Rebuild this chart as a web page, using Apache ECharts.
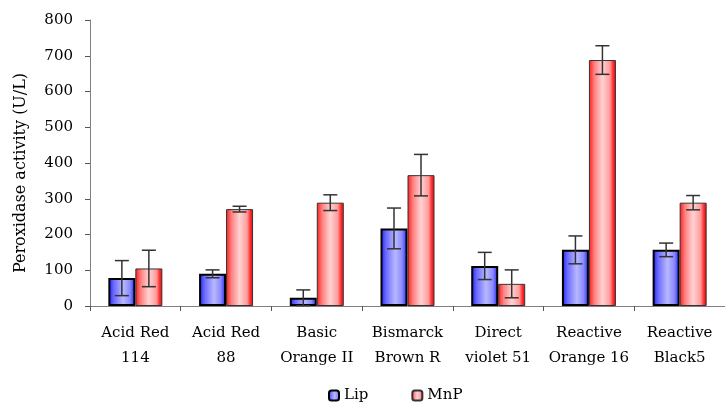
<!DOCTYPE html>
<html>
<head>
<meta charset="utf-8">
<script src="https://cdn.jsdelivr.net/npm/echarts@6/dist/echarts.min.js"></script>
<style>
html,body{margin:0;padding:0;background:#fff;}
#chart{width:725px;height:407px;}
</style>
</head>
<body>
<div id="chart"></div>
<script>
const categories = ['Acid Red\n114', 'Acid Red\n88', 'Basic\nOrange II', 'Bismarck\nBrown R', 'Direct\nviolet 51', 'Reactive\nOrange 16', 'Reactive\nBlack5'];
const lipValues = [78, 90, 23, 217, 112, 157, 157];
const lipErrors = [49, 11, 22, 57, 38, 39, 19];
const mnpValues = [105, 271, 289, 366, 62, 688, 289];
const mnpErrors = [51, 8, 22, 58, 39, 40, 20];
const seriesNames = ['Lip', 'MnP'];

const BAR_W = 27;
const serif = '"DejaVu Serif", "Liberation Serif", serif';

const lipGrad = new echarts.graphic.LinearGradient(0, 0, 1, 0, [
  {offset: 0, color: '#1a1aff'},
  {offset: 0.2, color: '#6a6aff'},
  {offset: 0.55, color: '#b8b8ff'},
  {offset: 0.8, color: '#8a8aff'},
  {offset: 1, color: '#2020f0'}
]);
const mnpGrad = new echarts.graphic.LinearGradient(0, 0, 1, 0, [
  {offset: 0, color: '#ff1a1a'},
  {offset: 0.2, color: '#ff8080'},
  {offset: 0.5, color: '#ffd2d2'},
  {offset: 0.78, color: '#ff9a9a'},
  {offset: 0.9, color: '#ff2a2a'},
  {offset: 1, color: '#e01010'}
]);

function errorSeries(values, errors, offset) {
  const data = values.map((v, i) => [i, v - errors[i], v + errors[i]]);
  return {
    type: 'custom',
    silent: true,
    z: 10,
    data: data,
    encode: {x: 0, y: [1, 2]},
    renderItem: function (params, api) {
      const i = api.value(0);
      const lo = api.coord([i, api.value(1)]);
      const hi = api.coord([i, api.value(2)]);
      const x = lo[0] + offset;
      const cap = 7;
      const style = {stroke: '#333', lineWidth: 1.5, fill: null};
      return {
        type: 'group',
        children: [
          {type: 'line', shape: {x1: x, y1: lo[1], x2: x, y2: hi[1]}, style: style},
          {type: 'line', shape: {x1: x - cap, y1: lo[1], x2: x + cap, y2: lo[1]}, style: style},
          {type: 'line', shape: {x1: x - cap, y1: hi[1], x2: x + cap, y2: hi[1]}, style: style}
        ]
      };
    }
  };
}

const chart = echarts.init(document.getElementById('chart'), null, {renderer: 'canvas'});
chart.setOption({
  animation: false,
  backgroundColor: '#fff',
  grid: {left: 90, right: -5, top: 20, bottom: 101, containLabel: false},
  legend: {
    top: 388,
    left: 328,
    padding: 0,
    itemGap: 43,
    itemWidth: 10,
    itemHeight: 10,
    data: seriesNames,
    textStyle: {fontFamily: serif, fontSize: 15, color: '#000'}
  },
  xAxis: {
    type: 'category',
    data: categories,
    axisLine: {lineStyle: {color: '#808080', width: 1}},
    axisTick: {show: true, alignWithLabel: false, length: 5, lineStyle: {color: '#555'}},
    axisLabel: {
      interval: 0,
      margin: 15,
      fontFamily: serif,
      fontSize: 15,
      color: '#000',
      lineHeight: 25
    }
  },
  yAxis: {
    type: 'value',
    min: 0,
    max: 800,
    interval: 100,
    name: 'Peroxidase activity (U/L)',
    nameLocation: 'middle',
    nameGap: 61,
    nameTextStyle: {fontFamily: serif, fontSize: 16, color: '#000', padding: [0, 20, 0, 0]},
    axisLine: {show: true, lineStyle: {color: '#808080', width: 1}},
    axisTick: {show: true, length: 5, lineStyle: {color: '#555'}},
    splitLine: {show: false},
    axisLabel: {fontFamily: serif, fontSize: 15, color: '#000', margin: 17}
  },
  series: [
    {
      name: 'Lip',
      type: 'bar',
      data: lipValues,
      barWidth: BAR_W,
      barGap: '0%',
      itemStyle: {color: lipGrad, borderColor: '#000', borderWidth: 2}
    },
    {
      name: 'MnP',
      type: 'bar',
      data: mnpValues,
      barWidth: BAR_W,
      barGap: '0%',
      itemStyle: {color: mnpGrad, borderColor: '#333', borderWidth: 1}
    },
    errorSeries(lipValues, lipErrors, -BAR_W / 2),
    errorSeries(mnpValues, mnpErrors, BAR_W / 2)
  ]
});
</script>
</body>
</html>
